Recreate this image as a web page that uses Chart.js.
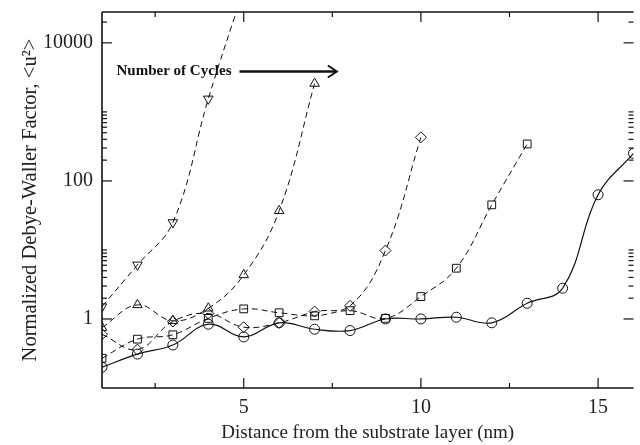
<!DOCTYPE html>
<html>
<head>
<meta charset="utf-8">
<script src="https://cdn.jsdelivr.net/npm/chart.js@4"></script>
<style>
  html, body { margin: 0; padding: 0; background: #fff; }
  #wrap { width: 640px; height: 445px; }
</style>
</head>
<body>
<div id="wrap"><canvas id="dwf" width="640" height="445"></canvas></div>
<script>
// distance from substrate (nm) and normalized <u^2>, one array per cycle count
const layers = [1, 2, 3, 4, 5, 6, 7, 8, 9, 10, 11, 12, 13, 14, 15, 16];
const circleU2 = [0.2, 0.31, 0.42, 0.84, 0.55, 0.88, 0.71, 0.68, 1.0, 1.0, 1.06, 0.88, 1.69, 2.79, 63, 250];
const squareU2 = [0.27, 0.51, 0.59, 1.02, 1.4, 1.23, 1.11, 1.32, 1.02, 2.11, 5.44, 45, 343];
const diamondU2 = [0.6, 0.36, 0.92, 1.2, 0.76, 0.88, 1.28, 1.55, 9.8, 428];
const triUpU2 = [0.75, 1.6, 0.94, 1.43, 4.35, 36.9, 2575];
const triDownU2 = [1.51, 6.08, 25, 1545, 60000];

const xTickLabels = [5, 10, 15];
const xMinorTicks = [2.5, 7.5, 12.5];
const yTickLabels = [1, 100, 10000];
const yMinorTicks = [2, 3, 4, 5, 6, 7, 8, 9, 10, 200, 300, 400, 500, 600, 700, 800, 900, 1000, 20000];

const SERIF = "'Liberation Serif', 'Times New Roman', serif";

function series(vals, style, dashed, rot) {
    return {
        data: vals.map((v, i) => ({ x: layers[i], y: v })),
        borderColor: '#111',
        borderWidth: dashed ? 1 : 1.2,
        borderDash: dashed ? [6, 4] : [],
        tension: 0.4,
        pointStyle: style,
        pointRotation: rot || 0,
        pointRadius: style === 'circle' ? 5 : 5.5,
        pointBorderWidth: 1,
        pointBorderColor: '#111',
        pointBackgroundColor: 'rgba(0,0,0,0)'
    };
}

// inward ticks on all four sides plus the frame
const frameTicks = {
    id: 'frameTicks',
    afterDatasetsDraw(chart) {
        const { ctx, chartArea: a, scales: { x, y } } = chart;
        ctx.save();
        ctx.strokeStyle = '#111';
        const seg = (x0, y0, x1, y1) => { ctx.beginPath(); ctx.moveTo(x0, y0); ctx.lineTo(x1, y1); ctx.stroke(); };
        ctx.lineWidth = 1.6;
        seg(a.left, a.bottom, a.left, a.top);
        seg(a.left, a.top, a.right, a.top);
        seg(a.left, a.bottom, a.right, a.bottom);
        ctx.lineWidth = 1.2;
        xTickLabels.forEach(v => {
            const px = x.getPixelForValue(v);
            seg(px, a.bottom, px, a.bottom - 10);
            seg(px, a.top, px, a.top + 10);
        });
        xMinorTicks.forEach(v => {
            const px = x.getPixelForValue(v);
            seg(px, a.bottom, px, a.bottom - 5);
            seg(px, a.top, px, a.top + 5);
        });
        yTickLabels.forEach(v => {
            const py = y.getPixelForValue(v);
            seg(a.left, py, a.left + 10, py);
            seg(a.right, py, a.right - 10, py);
        });
        yMinorTicks.forEach(v => {
            const py = y.getPixelForValue(v);
            seg(a.left, py, a.left + 5, py);
            seg(a.right, py, a.right - 5, py);
        });
        ctx.restore();
    }
};

// "Number of Cycles" label with arrow
const cyclesNote = {
    id: 'cyclesNote',
    afterDraw(chart) {
        const { ctx, scales: { x, y } } = chart;
        const yy = y.getPixelForValue(3850);
        const x0 = x.getPixelForValue(4.88);
        const x1 = x.getPixelForValue(7.6);
        ctx.save();
        ctx.fillStyle = '#111';
        ctx.font = "bold 15px " + SERIF;
        ctx.textAlign = 'right';
        ctx.textBaseline = 'middle';
        ctx.fillText('Number of Cycles', x0 - 8, yy);
        ctx.strokeStyle = '#111';
        ctx.lineWidth = 2.6;
        ctx.beginPath();
        ctx.moveTo(x0, yy);
        ctx.lineTo(x1, yy);
        ctx.stroke();
        ctx.lineWidth = 2;
        ctx.beginPath();
        ctx.moveTo(x1 - 8, yy - 6);
        ctx.lineTo(x1 + 1, yy);
        ctx.lineTo(x1 - 8, yy + 6);
        ctx.stroke();
        ctx.restore();
    }
};

new Chart(document.getElementById('dwf'), {
    type: 'line',
    data: {
        datasets: [
            series(circleU2, 'circle', false),
            series(squareU2, 'rect', true),
            series(diamondU2, 'rectRot', true),
            series(triUpU2, 'triangle', true),
            series(triDownU2, 'triangle', true, 180)
        ]
    },
    options: {
        responsive: false,
        animation: false,
        layout: { padding: { top: 12, right: 0, left: 0, bottom: 0 } },
        plugins: { legend: { display: false }, tooltip: { enabled: false } },
        scales: {
            x: {
                type: 'linear',
                min: 1,
                max: 16,
                grid: { display: false, drawTicks: false },
                border: { display: false },
                afterBuildTicks: axis => { axis.ticks = xTickLabels.map(v => ({ value: v })); },
                afterFit: axis => { axis.height = 57; axis.paddingLeft = 0; axis.paddingRight = 0; },
                ticks: {
                    padding: 8,
                    color: '#222',
                    font: { family: SERIF, size: 20 },
                    maxRotation: 0,
                    callback: v => String(v)
                },
                title: {
                    display: true,
                    text: 'Distance from the substrate layer (nm)',
                    color: '#222',
                    font: { family: SERIF, size: 19 },
                    padding: { top: 0, bottom: 1 }
                }
            },
            y: {
                type: 'logarithmic',
                min: 0.1,
                max: 28000,
                grid: { display: false, drawTicks: false },
                border: { display: false },
                afterBuildTicks: axis => { axis.ticks = yTickLabels.map(v => ({ value: v })); },
                afterFit: axis => { axis.width = 102; axis.paddingTop = 0; axis.paddingBottom = 0; },
                ticks: {
                    padding: 9,
                    color: '#222',
                    font: { family: SERIF, size: 20 },
                    callback: v => String(v)
                },
                title: {
                    display: true,
                    text: 'Normalized Debye-Waller Factor, <u²>',
                    color: '#222',
                    font: { family: SERIF, size: 20.5 },
                    padding: { top: 18, bottom: 0 }
                }
            }
        }
    },
    plugins: [frameTicks, cyclesNote]
});
</script>
</body>
</html>
